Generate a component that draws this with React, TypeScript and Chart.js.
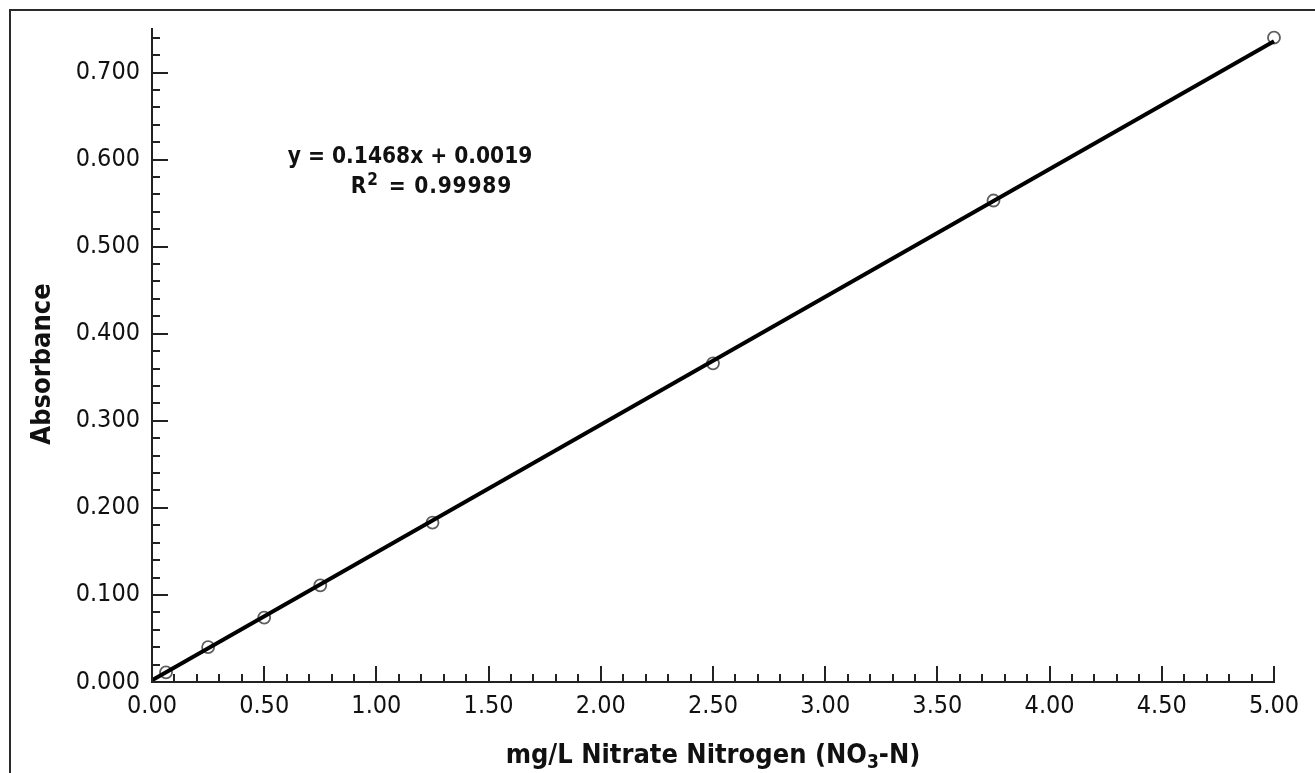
import { useEffect, useRef } from 'react';
import { Chart, registerables } from 'chart.js';

Chart.register(...registerables);

// ---- data ----
const CONCENTRATIONS = [0.0625, 0.25, 0.5, 0.75, 1.25, 2.5, 3.75, 5.0];
const ABSORBANCES = [0.011, 0.04, 0.074, 0.111, 0.183, 0.366, 0.553, 0.74];
const FIT_X = [0, 5];
const FIT_Y = [0.0019, 0.7359];

const X_MIN = 0;
const X_MAX = 5;
const X_MAJOR = 0.5;
const X_MINOR = 0.1;
const Y_MIN = 0;
const Y_MAX = 0.75;
const Y_MAJOR = 0.1;
const Y_MINOR = 0.02;

const EQUATION = 'y = 0.1468x + 0.0019';
const R2_LABEL = 'R';
const R2_SUP = '2';
const R2_VALUE = ' = 0.99989';
const X_TITLE_MAIN = 'mg/L Nitrate Nitrogen (NO';
const X_TITLE_SUB = '3';
const X_TITLE_END = '-N)';
const Y_TITLE = 'Absorbance';

// ---- style ----
const FAMILY = "'DejaVu Sans Condensed', 'DejaVu Sans', sans-serif";
const AXIS_COLOR = '#222222';
const TEXT_COLOR = '#111111';

const innerTicks = {
  id: 'innerTicks',
  afterDraw(chart: any) {
    const { ctx, chartArea } = chart;
    const x = chart.scales.x;
    const y = chart.scales.y;
    ctx.save();
    ctx.strokeStyle = AXIS_COLOR;
    ctx.lineWidth = 2;
    ctx.beginPath();
    const xn = Math.round((X_MAX - X_MIN) / X_MINOR);
    const xEvery = Math.round(X_MAJOR / X_MINOR);
    for (let i = 0; i <= xn; i++) {
      const v = X_MIN + i * X_MINOR;
      const len = i % xEvery === 0 ? 16 : 8;
      const px = Math.round(x.getPixelForValue(v));
      ctx.moveTo(px, chartArea.bottom);
      ctx.lineTo(px, chartArea.bottom - len);
    }
    const yn = Math.floor((Y_MAX - Y_MIN) / Y_MINOR + 1e-9);
    const yEvery = Math.round(Y_MAJOR / Y_MINOR);
    for (let i = 0; i <= yn; i++) {
      const v = Y_MIN + i * Y_MINOR;
      const len = i % yEvery === 0 ? 16 : 8;
      const py = Math.round(y.getPixelForValue(v));
      ctx.moveTo(chartArea.left, py);
      ctx.lineTo(chartArea.left + len, py);
    }
    ctx.stroke();

    ctx.fillStyle = TEXT_COLOR;
    // equation
    const mainFont = `bold 22.5px ${FAMILY}`;
    const supFont = `bold 17px ${FAMILY}`;
    ctx.font = mainFont;
    ctx.textBaseline = 'alphabetic';
    ctx.textAlign = 'center';
    ctx.fillText(EQUATION, x.getPixelForValue(1.15), y.getPixelForValue(0.5966));
    ctx.textAlign = 'left';
    ctx.font = mainFont;
    (ctx as any).letterSpacing = '0px';
    const wR = ctx.measureText(R2_LABEL).width;
    (ctx as any).letterSpacing = '0.8px';
    const wRest = ctx.measureText(R2_VALUE).width;
    ctx.font = supFont;
    (ctx as any).letterSpacing = '0px';
    const w2 = ctx.measureText(R2_SUP).width;
    const gapBefore = 1;
    const gapAfter = 3;
    const total = wR + gapBefore + w2 + gapAfter + wRest;
    let sx = x.getPixelForValue(1.245) - total / 2;
    const by = y.getPixelForValue(0.562);
    ctx.font = mainFont;
    ctx.fillText(R2_LABEL, sx, by);
    sx += wR + gapBefore;
    ctx.font = supFont;
    ctx.fillText(R2_SUP, sx, by - 8);
    sx += w2 + gapAfter;
    ctx.font = mainFont;
    (ctx as any).letterSpacing = '0.8px';
    ctx.fillText(R2_VALUE, sx, by);
    (ctx as any).letterSpacing = '0px';

    // x title with subscript
    const tMain = `bold 27px ${FAMILY}`;
    const tSub = `bold 19px ${FAMILY}`;
    ctx.font = tMain;
    const a = ctx.measureText(X_TITLE_MAIN).width;
    const c = ctx.measureText(X_TITLE_END).width;
    ctx.font = tSub;
    const b = ctx.measureText(X_TITLE_SUB).width;
    const cx = (chartArea.left + chartArea.right) / 2;
    let tx = cx - (a + b + c) / 2;
    const ty = 763;
    ctx.font = tMain;
    ctx.fillText(X_TITLE_MAIN, tx, ty);
    tx += a;
    ctx.font = tSub;
    ctx.fillText(X_TITLE_SUB, tx, ty + 5);
    tx += b;
    ctx.font = tMain;
    ctx.fillText(X_TITLE_END, tx, ty);

    // y title
    ctx.save();
    ctx.translate(50, 364);
    ctx.rotate(-Math.PI / 2);
    ctx.textAlign = 'center';
    ctx.font = tMain;
    ctx.fillText(Y_TITLE, 0, 0);
    ctx.restore();

    ctx.restore();
  },
};

export default function App() {
  const ref = useRef<HTMLCanvasElement | null>(null);

  useEffect(() => {
    if (!ref.current) return;
    const chart = new Chart(ref.current, {
      type: 'scatter',
      data: {
        datasets: [
          {
            label: 'fit',
            data: FIT_X.map((v, i) => ({ x: v, y: FIT_Y[i] })),
            showLine: true,
            borderColor: '#000000',
            borderWidth: 4,
            pointRadius: 0,
            pointHoverRadius: 0,
            fill: false,
            clip: false,
          },
          {
            label: 'standards',
            data: CONCENTRATIONS.map((v, i) => ({ x: v, y: ABSORBANCES[i] })),
            showLine: false,
            pointRadius: 6,
            pointBorderWidth: 1.8,
            pointBorderColor: '#5e5e5e',
            pointBackgroundColor: 'rgba(255,255,255,0)',
            clip: false,
          },
        ],
      },
      options: {
        responsive: false,
        animation: false,
        devicePixelRatio: 1,
        layout: { padding: { top: 29, right: 41, left: 0, bottom: 0 } },
        plugins: {
          legend: { display: false },
          tooltip: { enabled: false },
        },
        scales: {
          x: {
            type: 'linear',
            min: X_MIN,
            max: X_MAX,
            grid: { display: false, drawTicks: false },
            border: { display: true, color: AXIS_COLOR, width: 2 },
            ticks: {
              stepSize: X_MAJOR,
              color: TEXT_COLOR,
              font: { family: FAMILY, size: 25 },
              padding: 9,
              maxRotation: 0,
              autoSkip: false,
              callback: (v: any) => Number(v).toFixed(2),
            },
            afterFit: (s: any) => {
              s.height = 91;
            },
          },
          y: {
            type: 'linear',
            min: Y_MIN,
            max: Y_MAX,
            grid: { display: false, drawTicks: false },
            border: { display: true, color: AXIS_COLOR, width: 2 },
            ticks: {
              stepSize: Y_MAJOR,
              includeBounds: false,
              color: TEXT_COLOR,
              font: { family: FAMILY, size: 25 },
              padding: 12,
              autoSkip: false,
              callback: (v: any) => Number(v).toFixed(3),
            },
            afterFit: (s: any) => {
              s.width = 152;
            },
          },
        },
      },
      plugins: [innerTicks],
    } as any);
    return () => chart.destroy();
  }, []);

  return (
    <div
      style={{
        position: 'fixed',
        left: 0,
        top: 0,
        width: 1315,
        height: 773,
        overflow: 'hidden',
        background: '#ffffff',
      }}
    >
      <div
        style={{
          position: 'absolute',
          left: 9,
          top: 9,
          width: 1400,
          height: 900,
          border: '2px solid #2a2a2a',
          boxSizing: 'border-box',
        }}
      />
      <canvas
        ref={ref}
        width={1315}
        height={773}
        style={{ position: 'absolute', left: 0, top: 0, width: 1315, height: 773 }}
      />
    </div>
  );
}
